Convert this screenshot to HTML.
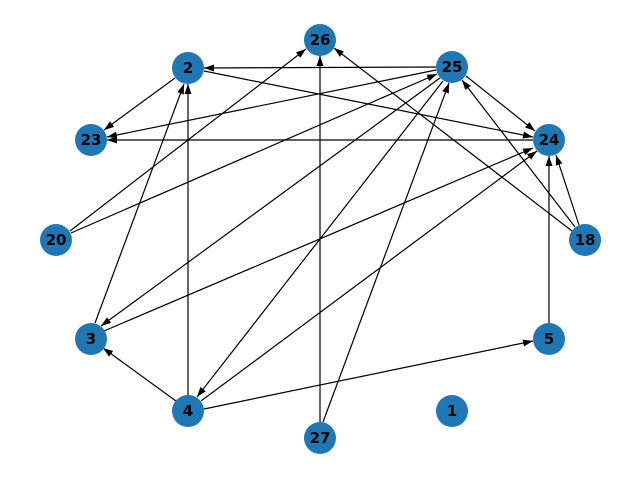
<!DOCTYPE html>
<html><head><meta charset="utf-8"><style>body{margin:0;background:#fff}svg{display:block}</style></head><body>
<svg width="640" height="480" viewBox="0 0 640 480" xmlns="http://www.w3.org/2000/svg">
<defs><marker id="a" viewBox="0 0 10 10" refX="10" refY="5" markerWidth="10" markerHeight="10" markerUnits="userSpaceOnUse" orient="auto"><path d="M0,1.5 L10,5 L0,8.5 z" fill="#000"/></marker></defs>
<g stroke="#000" stroke-width="1.2" marker-end="url(#a)">
<line x1="436" y1="67" x2="204" y2="68"/>
<line x1="175" y1="78" x2="104" y2="130"/>
<line x1="204" y1="71" x2="533" y2="137"/>
<line x1="436" y1="70" x2="107" y2="137"/>
<line x1="533" y1="140" x2="107" y2="140"/>
<line x1="466" y1="76" x2="535" y2="131"/>
<line x1="70" y1="231" x2="306" y2="49"/>
<line x1="71" y1="233" x2="437" y2="74"/>
<line x1="95" y1="323" x2="184" y2="84"/>
<line x1="104" y1="331" x2="533" y2="148"/>
<line x1="440" y1="78" x2="101" y2="326"/>
<line x1="188" y1="395" x2="188" y2="84"/>
<line x1="176" y1="401" x2="103" y2="348"/>
<line x1="204" y1="409" x2="533" y2="341"/>
<line x1="443" y1="81" x2="197" y2="397"/>
<line x1="201" y1="401" x2="537" y2="151"/>
<line x1="320" y1="422" x2="320" y2="56"/>
<line x1="323" y1="422" x2="449" y2="83"/>
<line x1="572" y1="231" x2="334" y2="48"/>
<line x1="575" y1="227" x2="462" y2="80"/>
<line x1="579" y1="225" x2="556" y2="155"/>
<line x1="549" y1="323" x2="549" y2="156"/>
</g>
<g fill="#1f78b4"><circle cx="320" cy="40" r="16"/><circle cx="188" cy="68" r="16"/><circle cx="452" cy="67" r="16"/><circle cx="91" cy="140" r="16"/><circle cx="549" cy="140" r="16"/><circle cx="56" cy="240" r="16"/><circle cx="585" cy="240" r="16"/><circle cx="91" cy="339" r="16"/><circle cx="549" cy="339" r="16"/><circle cx="188" cy="411" r="16"/><circle cx="452" cy="411" r="16"/><circle cx="320" cy="438" r="16"/></g>
<g font-family="'DejaVu Sans','Liberation Sans',sans-serif" font-weight="bold" font-size="15" text-anchor="middle" dominant-baseline="central">
<text x="320" y="40">26</text><text x="188" y="68">2</text><text x="452" y="67">25</text><text x="91" y="140">23</text><text x="549" y="140">24</text><text x="56" y="240">20</text><text x="585" y="240">18</text><text x="91" y="339">3</text><text x="549" y="339">5</text><text x="188" y="411">4</text><text x="452" y="411">1</text><text x="320" y="438">27</text>
</g>
</svg>
</body></html>
